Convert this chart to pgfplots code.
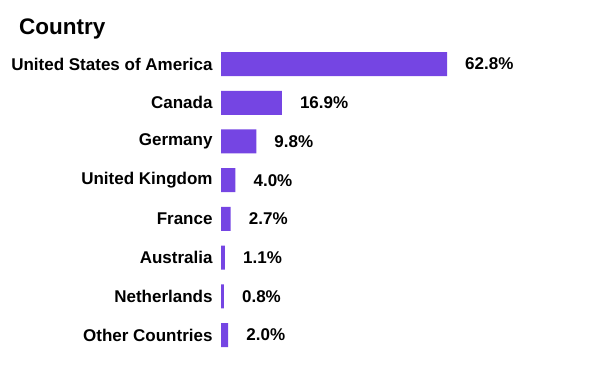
\documentclass[border=0pt]{standalone}
\usepackage{pgfplots}
\pgfplotsset{compat=1.18}
\usepackage{fontspec}
\setmainfont{Liberation Sans}
\definecolor{barpurple}{RGB}{117,69,227}
\begin{document}
\begin{tikzpicture}[x=1pt,y=1pt]
\path[use as bounding box] (0,0) rectangle (600,371);
\node[anchor=base west,inner sep=0pt,font=\fontsize{22.5}{26}\selectfont\bfseries] at (19,336) {Country};
\begin{axis}[
  at={(221pt,16.6pt)}, anchor=south west,
  scale only axis, width=226pt, height=309.7pt,
  xmin=0, xmax=62.8, ymin=-0.5, ymax=7.5, y dir=reverse,
  xbar, bar width=24pt, clip=false,
  axis line style={draw=none}, tick style={draw=none},
  xtick=\empty,
  ytick={0,1,2,3,4,5,6,7},
  yticklabels={United States of America,Canada,Germany,United Kingdom,France,Australia,Netherlands,Other Countries},
  yticklabel style={font=\fontsize{17}{20}\selectfont\bfseries, anchor=east, inner sep=0pt, xshift=-4pt},
  nodes near coords={\pgfmathprintnumber[fixed,precision=1,fixed zerofill,assume math mode=true]{\pgfplotspointmeta}\%},
  point meta=x,
  nodes near coords style={font=\fontsize{17}{20}\selectfont\bfseries, anchor=west, inner sep=0pt, xshift=18pt},
]
\addplot[fill=barpurple, draw=none] coordinates {
(62.8,0) (16.9,1) (9.8,2) (4.0,3) (2.7,4) (1.1,5) (0.8,6) (2.0,7)
};
\end{axis}
\end{tikzpicture}
\end{document}
